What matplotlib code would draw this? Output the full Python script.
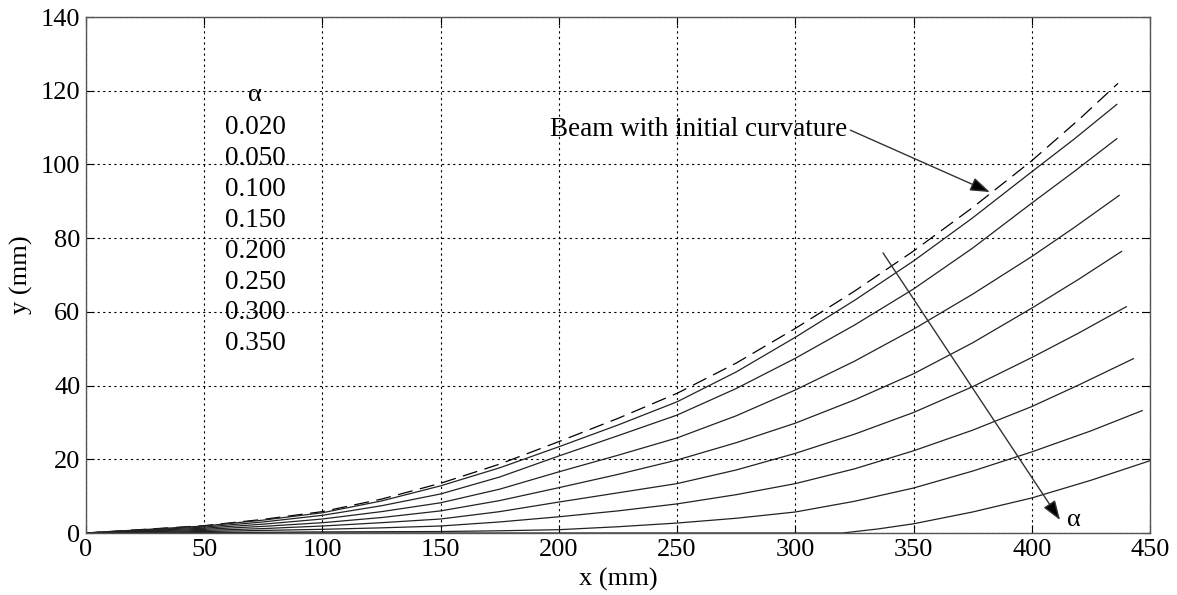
import matplotlib
matplotlib.use("Agg")
import matplotlib.pyplot as plt

plt.rcParams['font.family'] = ['Liberation Serif', 'DejaVu Serif']

# ---- data ----
xs = [0, 50, 75, 100, 125, 150, 175, 200, 225, 250, 275, 300, 325, 350, 375, 400]

beam_x = xs + [420, 436.5]
beam_y = [0, 2.0, 3.7, 5.8, 9.2, 13.5, 18.7, 24.8, 31.1, 37.9, 46.1, 55.5, 65.6, 76.5, 88.3, 101.0, 112.2, 122.0]

alphas = ["0.020", "0.050", "0.100", "0.150", "0.200", "0.250", "0.300", "0.350"]

c1_x = xs + [418, 436]
c1_y = [0, 1.9, 3.5, 5.5, 8.7, 12.8, 17.7, 23.4, 29.3, 35.6, 43.7, 53.1, 63.1, 73.8, 85.5, 98.0, 106.9, 116.3]
c2_x = xs + [418, 436]
c2_y = [0, 1.6, 3.0, 4.8, 7.4, 10.6, 15.2, 20.9, 26.4, 32.0, 39.2, 47.4, 56.4, 66.2, 77.3, 89.5, 98.1, 107.0]
c3_x = xs + [418, 437]
c3_y = [0, 1.3, 2.4, 3.8, 5.8, 8.2, 11.9, 16.6, 21.1, 25.8, 31.8, 38.8, 46.6, 55.3, 64.8, 75.0, 82.9, 91.6]
c4_x = xs + [420, 438]
c4_y = [0, 1.0, 1.8, 2.8, 4.2, 6.0, 8.8, 12.3, 15.9, 19.8, 24.5, 29.8, 36.1, 43.2, 51.6, 61.0, 68.9, 76.4]
c5_x = xs + [420, 440]
c5_y = [0, 0.7, 1.2, 1.9, 2.8, 3.8, 5.8, 8.4, 10.9, 13.4, 17.1, 21.6, 26.8, 32.7, 39.7, 47.6, 54.3, 61.4]
c6_x = xs + [420, 443]
c6_y = [0, 0.4, 0.7, 1.0, 1.4, 1.9, 3.0, 4.4, 6.0, 7.9, 10.4, 13.4, 17.4, 22.3, 27.9, 34.3, 40.2, 47.3]
c7_x = xs + [425, 446.7]
c7_y = [0, 0.1, 0.2, 0.3, 0.35, 0.4, 0.6, 0.9, 1.7, 2.7, 4.0, 5.7, 8.6, 12.2, 16.8, 22.0, 27.7, 33.2]
c8_x = [0, 100, 200, 300, 320, 335, 350, 375, 400, 425, 450]
c8_y = [0, 0, 0, 0, 0, 1.1, 2.5, 5.7, 9.5, 14.3, 19.6]

curves = [(c1_x, c1_y), (c2_x, c2_y), (c3_x, c3_y), (c4_x, c4_y),
          (c5_x, c5_y), (c6_x, c6_y), (c7_x, c7_y), (c8_x, c8_y)]

xticks = [0, 50, 100, 150, 200, 250, 300, 350, 400, 450]
yticks = [0, 20, 40, 60, 80, 100, 120, 140]

fig = plt.figure(figsize=(11.77, 5.95), dpi=100)
ax = fig.add_axes([0.0731, 0.1042, 0.9039, 0.8672])

ax.plot(beam_x, beam_y, color='black', lw=0.9, linestyle=(0, (12, 6)))
for cx, cy in curves:
    ax.plot(cx, cy, color='#222222', lw=0.9)

ax.set_xlim(0, 450)
ax.set_ylim(0, 140)
ax.set_xticks(xticks)
ax.set_yticks(yticks)
ax.grid(True, color='black', linestyle=(0, (2, 3)), linewidth=0.8)
ax.tick_params(direction='in', length=6, width=0.8, top=True, right=True,
               labelsize=19, pad=4, colors='black')
for s in ax.spines.values():
    s.set_color('#555555')
    s.set_linewidth(1.0)

ax.set_xlabel('x (mm)', fontsize=19, labelpad=5)
ax.set_ylabel('y (mm)', fontsize=19, labelpad=6)

# alpha list
ax.text(71.5, 118.8, 'α', fontsize=19, ha='center', va='center')
for i, a in enumerate(alphas):
    ax.text(71.5, 110.1 - 8.4 * i, a, fontsize=19.5, ha='center', va='center')

# annotations
ax.text(196.2, 109.6, 'Beam with initial curvature', fontsize=19.5, ha='left', va='center')
arrow_style = dict(arrowstyle='-|>,head_length=1.0,head_width=0.35',
                   color='#333333', lw=1.0, shrinkA=0, shrinkB=0,
                   mutation_scale=12, fc='black')
ax.annotate('', xy=(382.3, 92.5), xytext=(323.3, 109.3), arrowprops=arrow_style)
ax.annotate('', xy=(412.0, 3.5), xytext=(337.1, 76.0), arrowprops=arrow_style)
ax.text(415.0, 3.6, 'α', fontsize=19, ha='left', va='center')

fig.savefig('out.png', dpi=100)
